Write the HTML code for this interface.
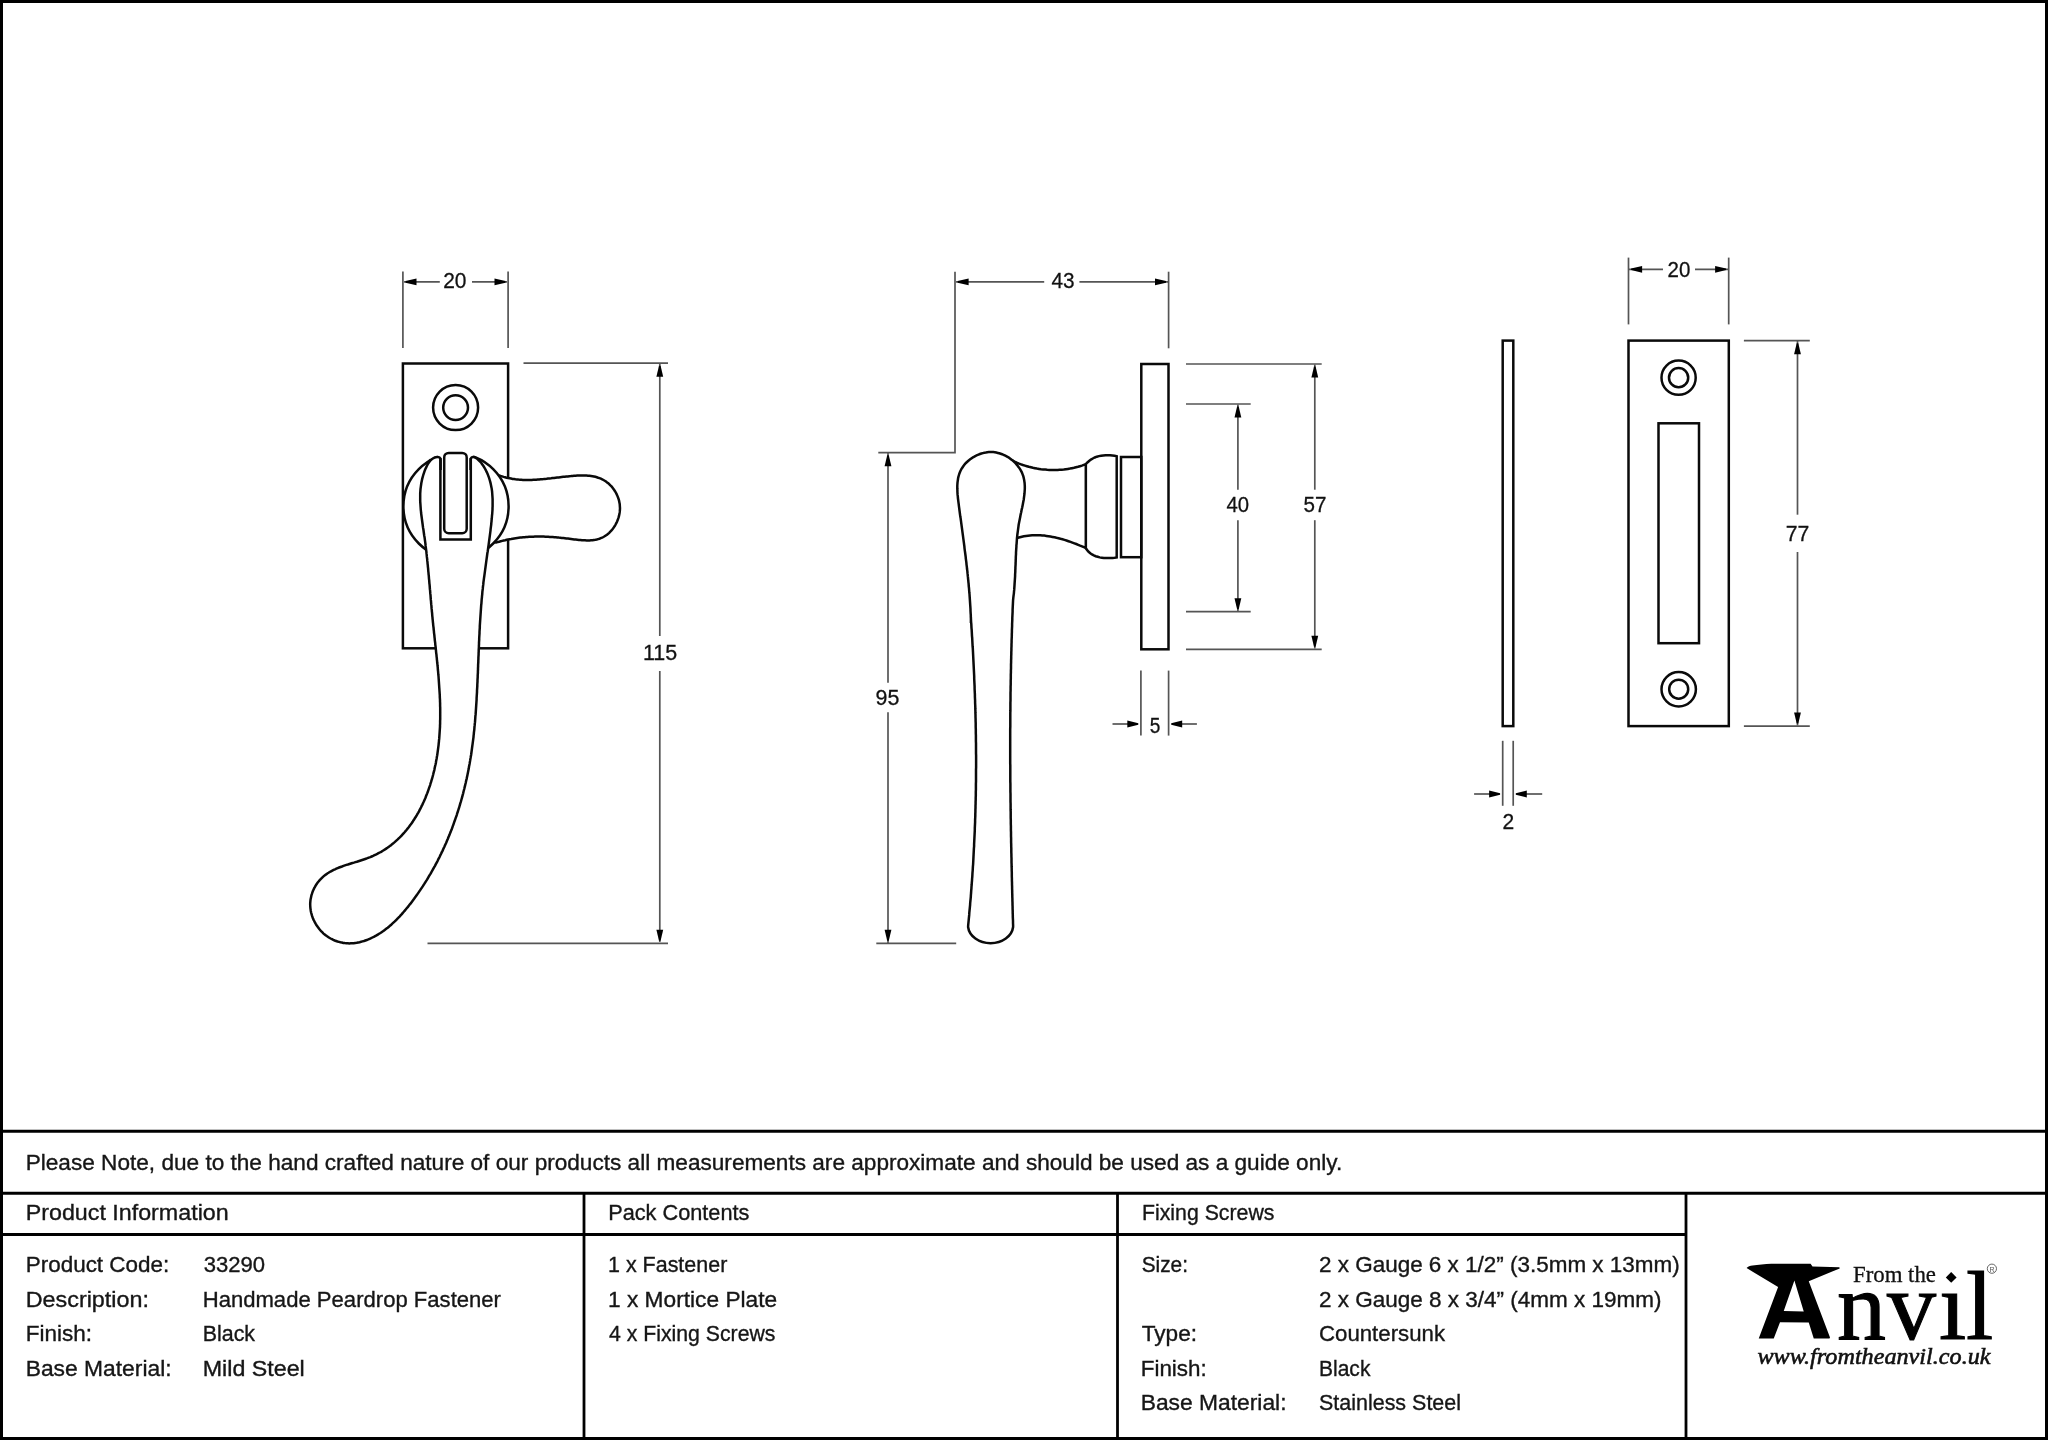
<!DOCTYPE html>
<html><head><meta charset="utf-8">
<style>
html,body{margin:0;padding:0;background:#fff;}
body{width:2048px;height:1440px;overflow:hidden;position:relative;}
svg{position:absolute;left:0;top:0;will-change:transform;}
.t{font-family:"Liberation Sans",sans-serif;font-size:21.8px;fill:#161616;stroke:#161616;stroke-width:0.35px;}
.d{font-family:"Liberation Sans",sans-serif;font-size:22.2px;fill:#111;stroke:#111;stroke-width:0.3px;}
.o{fill:none;stroke:#0a0a0a;stroke-width:2.5;}
.ow{fill:#fff;stroke:#0a0a0a;stroke-width:2.5;}
.dl{fill:none;stroke:#555;stroke-width:1.7;}
.ah{fill:#000;stroke:none;}
</style></head>
<body>
<svg width="2048" height="1440" viewBox="0 0 2048 1440">
<!-- frame -->
<rect x="1.5" y="1.5" width="2045" height="1437" fill="none" stroke="#000" stroke-width="3"/>
<line x1="0" y1="1131.2" x2="2048" y2="1131.2" stroke="#000" stroke-width="3"/>
<line x1="0" y1="1193.2" x2="2048" y2="1193.2" stroke="#000" stroke-width="3"/>
<line x1="0" y1="1234.5" x2="1686" y2="1234.5" stroke="#000" stroke-width="3"/>
<line x1="584" y1="1193" x2="584" y2="1440" stroke="#000" stroke-width="2.8"/>
<line x1="1117.5" y1="1193" x2="1117.5" y2="1440" stroke="#000" stroke-width="2.8"/>
<line x1="1686" y1="1193" x2="1686" y2="1440" stroke="#000" stroke-width="2.8"/>

<!-- table text -->
<g class="t">
<text x="25.7" y="1170" textLength="1316.5" lengthAdjust="spacingAndGlyphs">Please Note, due to the hand crafted nature of our products all measurements are approximate and should be used as a guide only.</text>
<text x="25.7" y="1219.5" textLength="203.0" lengthAdjust="spacingAndGlyphs">Product Information</text>
<text x="608.2" y="1219.5" textLength="141.2" lengthAdjust="spacingAndGlyphs">Pack Contents</text>
<text x="1142.0" y="1219.5" textLength="132.4" lengthAdjust="spacingAndGlyphs">Fixing Screws</text>

<text x="25.7" y="1272" textLength="143.6" lengthAdjust="spacingAndGlyphs">Product Code:</text>
<text x="203.7" y="1272" textLength="61.4" lengthAdjust="spacingAndGlyphs">33290</text>
<text x="25.7" y="1306.8" textLength="123.3" lengthAdjust="spacingAndGlyphs">Description:</text>
<text x="202.7" y="1306.8" textLength="298.3" lengthAdjust="spacingAndGlyphs">Handmade Peardrop Fastener</text>
<text x="25.7" y="1341.2" textLength="66.3" lengthAdjust="spacingAndGlyphs">Finish:</text>
<text x="202.7" y="1341.2" textLength="52.4" lengthAdjust="spacingAndGlyphs">Black</text>
<text x="25.7" y="1375.5" textLength="145.9" lengthAdjust="spacingAndGlyphs">Base Material:</text>
<text x="202.7" y="1375.5" textLength="102.1" lengthAdjust="spacingAndGlyphs">Mild Steel</text>

<text x="608.0" y="1272" textLength="119.3" lengthAdjust="spacingAndGlyphs">1 x Fastener</text>
<text x="608.0" y="1306.8" textLength="169.2" lengthAdjust="spacingAndGlyphs">1 x Mortice Plate</text>
<text x="609.0" y="1341.2" textLength="166.4" lengthAdjust="spacingAndGlyphs">4 x Fixing Screws</text>

<text x="1141.7" y="1272" textLength="46.3" lengthAdjust="spacingAndGlyphs">Size:</text>
<text x="1319.0" y="1272" textLength="360.7" lengthAdjust="spacingAndGlyphs">2 x Gauge 6 x 1/2” (3.5mm x 13mm)</text>
<text x="1319.0" y="1306.8" textLength="342.5" lengthAdjust="spacingAndGlyphs">2 x Gauge 8 x 3/4” (4mm x 19mm)</text>
<text x="1141.7" y="1341.2" textLength="55.3" lengthAdjust="spacingAndGlyphs">Type:</text>
<text x="1319.0" y="1341.2" textLength="126.0" lengthAdjust="spacingAndGlyphs">Countersunk</text>
<text x="1140.7" y="1375.5" textLength="66.1" lengthAdjust="spacingAndGlyphs">Finish:</text>
<text x="1319.0" y="1375.5" textLength="51.4" lengthAdjust="spacingAndGlyphs">Black</text>
<text x="1140.7" y="1409.5" textLength="145.8" lengthAdjust="spacingAndGlyphs">Base Material:</text>
<text x="1319.0" y="1409.5" textLength="142.0" lengthAdjust="spacingAndGlyphs">Stainless Steel</text>
</g>

<!-- DRAWINGS -->
<!-- drawing 1 front view -->
<g id="d1">
<rect class="o" x="402.9" y="363.5" width="105.2" height="284.8"/>
<circle class="o" cx="455.6" cy="407.6" r="22.5"/>
<circle class="o" cx="455.6" cy="407.6" r="12.4"/>
<!--LV-->
<path class="ow" d="M 470,480 L 496.1,474.3 L 497.6,474.9 L 499.1,475.5 L 500.6,476.0 L 502.1,476.4 L 503.6,476.9 L 505.1,477.3 L 506.6,477.7 L 508.1,478.0 L 509.6,478.3 L 511.1,478.6 L 512.6,478.9 L 514.0,479.1 L 515.5,479.3 L 517.0,479.4 L 518.5,479.6 L 520.0,479.7 L 521.4,479.8 L 522.9,479.9 L 524.4,479.9 L 525.9,480.0 L 527.4,480.0 L 528.8,480.0 L 530.3,479.9 L 531.8,479.9 L 533.3,479.8 L 534.7,479.8 L 536.2,479.7 L 537.7,479.6 L 539.2,479.5 L 540.7,479.3 L 542.2,479.2 L 543.6,479.1 L 545.1,478.9 L 546.6,478.8 L 548.1,478.6 L 549.6,478.4 L 551.1,478.3 L 552.6,478.1 L 554.1,477.9 L 555.6,477.7 L 557.1,477.5 L 558.7,477.4 L 560.2,477.2 L 561.7,477.0 L 563.2,476.8 L 564.7,476.7 L 566.3,476.5 L 567.8,476.4 L 569.4,476.2 L 570.9,476.1 L 572.5,475.9 L 574.0,475.8 L 575.6,475.7 L 577.2,475.6 L 578.7,475.6 L 580.3,475.5 L 581.8,475.5 L 583.4,475.5 L 584.9,475.5 L 586.5,475.6 L 588.0,475.7 L 589.5,475.8 L 591.0,476.0 L 592.5,476.2 L 593.9,476.5 L 595.4,476.8 L 596.8,477.2 L 598.2,477.7 L 599.5,478.1 L 600.9,478.7 L 602.2,479.3 L 603.5,480.0 L 604.7,480.7 L 606.0,481.5 L 607.1,482.4 L 608.3,483.3 L 609.4,484.3 L 610.4,485.4 L 611.5,486.4 L 612.4,487.6 L 613.3,488.8 L 614.2,490.0 L 615.0,491.2 L 615.8,492.5 L 616.5,493.9 L 617.1,495.2 L 617.7,496.6 L 618.2,498.0 L 618.7,499.4 L 619.1,500.9 L 619.4,502.4 L 619.7,503.9 L 619.8,505.4 L 619.9,506.9 L 620.0,508.4 L 619.9,509.9 L 619.8,511.4 L 619.6,512.9 L 619.3,514.4 L 619.0,515.9 L 618.6,517.4 L 618.1,518.9 L 617.6,520.3 L 617.0,521.7 L 616.3,523.1 L 615.6,524.5 L 614.9,525.8 L 614.0,527.1 L 613.2,528.3 L 612.3,529.5 L 611.3,530.6 L 610.3,531.7 L 609.2,532.8 L 608.1,533.8 L 607.0,534.7 L 605.8,535.5 L 604.6,536.3 L 603.4,537.0 L 602.1,537.7 L 600.8,538.2 L 599.5,538.7 L 598.1,539.1 L 596.8,539.5 L 595.4,539.8 L 593.9,540.0 L 592.5,540.2 L 591.0,540.3 L 589.6,540.4 L 588.1,540.4 L 586.6,540.4 L 585.0,540.3 L 583.5,540.3 L 582.0,540.2 L 580.4,540.0 L 578.9,539.9 L 577.3,539.7 L 575.8,539.5 L 574.2,539.4 L 572.7,539.2 L 571.1,539.0 L 569.5,538.8 L 568.0,538.6 L 566.4,538.4 L 564.9,538.2 L 563.4,538.0 L 561.8,537.9 L 560.3,537.7 L 558.8,537.6 L 557.3,537.4 L 555.8,537.3 L 554.3,537.2 L 552.8,537.1 L 551.3,537.0 L 549.8,536.9 L 548.3,536.8 L 546.8,536.7 L 545.3,536.7 L 543.8,536.6 L 542.3,536.6 L 540.9,536.6 L 539.4,536.6 L 537.9,536.6 L 536.4,536.6 L 534.9,536.6 L 533.5,536.7 L 532.0,536.7 L 530.5,536.8 L 529.0,536.8 L 527.6,536.9 L 526.1,537.0 L 524.6,537.2 L 523.1,537.3 L 521.6,537.5 L 520.2,537.6 L 518.7,537.8 L 517.2,538.0 L 515.7,538.2 L 514.2,538.4 L 512.7,538.7 L 511.2,539.0 L 509.7,539.2 L 508.2,539.5 L 506.7,539.8 L 505.2,540.2 L 503.7,540.5 L 502.2,540.9 L 500.7,541.3 L 499.2,541.7 L 497.6,542.1 L 496.1,542.5 L 470,540 Z"/>
<circle class="ow" cx="456" cy="506.3" r="52.6"/>
<!--/LV-->
<!--B1-->
<path fill="#fff" stroke="none" d="M 440.6,470 L 440.6,459.8 C 440.6,457.6 439,456.9 437,457 C 434,457.2 430.5,460 428.3,463.3 L 428.3,463.2 L 427.5,464.6 L 426.8,466.0 L 426.2,467.4 L 425.5,468.8 L 424.9,470.2 L 424.4,471.7 L 423.9,473.1 L 423.4,474.5 L 423.0,476.0 L 422.6,477.4 L 422.2,478.9 L 421.9,480.3 L 421.6,481.8 L 421.3,483.3 L 421.1,484.7 L 420.9,486.2 L 420.7,487.7 L 420.5,489.2 L 420.4,490.7 L 420.3,492.1 L 420.2,493.6 L 420.2,495.1 L 420.2,496.6 L 420.2,498.1 L 420.2,499.6 L 420.2,501.1 L 420.3,502.6 L 420.4,504.0 L 420.5,505.5 L 420.6,507.0 L 420.7,508.5 L 420.8,510.0 L 421.0,511.5 L 421.1,513.0 L 421.3,514.5 L 421.5,516.0 L 421.7,517.5 L 421.9,519.0 L 422.1,520.5 L 422.3,522.0 L 422.5,523.5 L 422.7,525.0 L 422.9,526.5 L 423.1,528.0 L 423.4,529.5 L 423.6,531.0 L 423.8,532.5 L 424.0,534.0 L 424.2,535.5 L 424.5,536.9 L 424.7,538.4 L 424.9,539.9 L 425.1,541.4 L 425.3,542.9 L 425.5,544.4 L 425.6,545.9 L 425.8,547.4 L 426.0,548.9 L 426.2,550.4 L 426.4,551.9 L 426.5,553.4 L 426.7,554.9 L 426.8,556.4 L 427.0,557.9 L 427.2,559.4 L 427.3,560.9 L 427.5,562.4 L 427.6,563.8 L 427.8,565.3 L 427.9,566.8 L 428.1,568.3 L 428.2,569.8 L 428.3,571.3 L 428.5,572.8 L 428.6,574.3 L 428.8,575.8 L 428.9,577.3 L 429.0,578.8 L 429.2,580.3 L 429.3,581.8 L 429.4,583.3 L 429.6,584.8 L 429.7,586.2 L 429.8,587.7 L 429.9,589.2 L 430.1,590.7 L 430.2,592.2 L 430.3,593.7 L 430.5,595.2 L 430.6,596.7 L 430.7,598.2 L 430.8,599.7 L 431.0,601.2 L 431.1,602.7 L 431.2,604.2 L 431.4,605.7 L 431.5,607.2 L 431.6,608.7 L 431.8,610.2 L 431.9,611.6 L 432.1,613.1 L 432.2,614.6 L 432.3,616.1 L 432.5,617.6 L 432.6,619.1 L 432.8,620.6 L 432.9,622.1 L 433.1,623.6 L 433.2,625.1 L 433.4,626.6 L 433.6,628.1 L 433.7,629.6 L 433.9,631.1 L 434.0,632.6 L 434.2,634.1 L 434.4,635.6 L 434.5,637.1 L 434.7,638.6 L 434.8,640.1 L 435.0,641.6 L 435.2,643.1 L 435.3,644.6 L 435.5,646.1 L 435.7,647.6 L 435.8,649.1 L 436.0,650.6 L 436.1,652.1 L 436.3,653.6 L 436.5,655.1 L 436.6,656.6 L 436.8,658.1 L 436.9,659.6 L 437.1,661.1 L 437.2,662.5 L 437.4,664.0 L 437.5,665.5 L 437.7,667.0 L 437.8,668.5 L 437.9,670.0 L 438.1,671.5 L 438.2,673.0 L 438.3,674.5 L 438.5,676.0 L 438.6,677.5 L 438.7,679.0 L 438.8,680.5 L 438.9,682.0 L 439.0,683.5 L 439.1,685.0 L 439.2,686.5 L 439.3,688.0 L 439.4,689.5 L 439.5,691.0 L 439.6,692.5 L 439.7,694.0 L 439.8,695.5 L 439.8,697.0 L 439.9,698.5 L 440.0,700.0 L 440.0,701.5 L 440.1,703.0 L 440.1,704.5 L 440.1,706.0 L 440.2,707.5 L 440.2,709.0 L 440.2,710.5 L 440.2,712.0 L 440.2,713.5 L 440.2,715.0 L 440.2,716.5 L 440.2,717.9 L 440.2,719.4 L 440.1,720.9 L 440.1,722.4 L 440.1,723.9 L 440.0,725.4 L 440.0,726.9 L 439.9,728.4 L 439.8,729.9 L 439.7,731.4 L 439.6,732.9 L 439.5,734.4 L 439.4,735.9 L 439.3,737.4 L 439.2,738.9 L 439.0,740.3 L 438.9,741.8 L 438.7,743.3 L 438.6,744.8 L 438.4,746.3 L 438.2,747.8 L 438.0,749.3 L 437.8,750.8 L 437.6,752.3 L 437.4,753.8 L 437.2,755.2 L 436.9,756.7 L 436.7,758.2 L 436.4,759.7 L 436.1,761.2 L 435.9,762.7 L 435.6,764.2 L 435.2,765.7 L 434.9,767.1 L 434.6,768.6 L 434.3,770.1 L 433.9,771.6 L 433.5,773.1 L 433.2,774.5 L 432.8,776.0 L 432.4,777.5 L 432.0,779.0 L 431.5,780.4 L 431.1,781.9 L 430.6,783.3 L 430.2,784.8 L 429.7,786.3 L 429.2,787.7 L 428.7,789.1 L 428.2,790.6 L 427.7,792.0 L 427.2,793.4 L 426.6,794.8 L 426.0,796.3 L 425.5,797.7 L 424.9,799.1 L 424.3,800.4 L 423.7,801.8 L 423.0,803.2 L 422.4,804.6 L 421.7,805.9 L 421.1,807.3 L 420.4,808.6 L 419.7,809.9 L 419.0,811.3 L 418.3,812.6 L 417.5,813.9 L 416.8,815.2 L 416.0,816.5 L 415.2,817.7 L 414.4,819.0 L 413.6,820.2 L 412.8,821.5 L 412.0,822.7 L 411.1,823.9 L 410.3,825.1 L 409.4,826.3 L 408.5,827.5 L 407.6,828.6 L 406.7,829.8 L 405.7,830.9 L 404.8,832.0 L 403.8,833.1 L 402.8,834.2 L 401.8,835.3 L 400.8,836.4 L 399.8,837.4 L 398.7,838.4 L 397.7,839.4 L 396.6,840.4 L 395.5,841.4 L 394.4,842.4 L 393.3,843.3 L 392.1,844.2 L 391.0,845.2 L 389.8,846.1 L 388.6,846.9 L 387.4,847.8 L 386.2,848.6 L 385.0,849.4 L 383.7,850.2 L 382.4,851.0 L 381.2,851.8 L 379.8,852.5 L 378.5,853.2 L 377.2,853.9 L 375.8,854.6 L 374.5,855.2 L 373.1,855.9 L 371.7,856.5 L 370.3,857.1 L 368.8,857.6 L 367.4,858.2 L 365.9,858.7 L 364.4,859.2 L 362.9,859.7 L 361.4,860.2 L 359.9,860.7 L 358.4,861.2 L 356.9,861.7 L 355.4,862.1 L 353.9,862.6 L 352.4,863.0 L 350.9,863.5 L 349.4,864.0 L 347.9,864.5 L 346.4,864.9 L 344.9,865.4 L 343.5,865.9 L 342.0,866.5 L 340.6,867.0 L 339.1,867.5 L 337.7,868.1 L 336.3,868.7 L 335.0,869.3 L 333.6,869.9 L 332.3,870.6 L 331.0,871.3 L 329.7,872.0 L 328.5,872.8 L 327.3,873.5 L 326.1,874.4 L 324.9,875.2 L 323.8,876.1 L 322.7,877.1 L 321.7,878.1 L 320.7,879.1 L 319.7,880.1 L 318.8,881.2 L 317.9,882.3 L 317.0,883.5 L 316.2,884.7 L 315.5,885.9 L 314.8,887.2 L 314.1,888.4 L 313.5,889.7 L 312.9,891.0 L 312.4,892.4 L 312.0,893.7 L 311.5,895.1 L 311.2,896.5 L 310.9,897.9 L 310.6,899.3 L 310.4,900.8 L 310.3,902.2 L 310.2,903.7 L 310.2,905.1 L 310.3,906.6 L 310.4,908.1 L 310.6,909.5 L 310.8,911.0 L 311.1,912.5 L 311.5,913.9 L 311.9,915.4 L 312.4,916.8 L 312.9,918.2 L 313.5,919.6 L 314.2,921.0 L 314.9,922.4 L 315.6,923.7 L 316.4,925.0 L 317.3,926.3 L 318.2,927.6 L 319.1,928.8 L 320.1,930.0 L 321.1,931.1 L 322.2,932.2 L 323.3,933.3 L 324.4,934.3 L 325.6,935.2 L 326.8,936.1 L 328.1,937.0 L 329.3,937.8 L 330.6,938.5 L 332.0,939.2 L 333.3,939.9 L 334.7,940.5 L 336.1,941.0 L 337.5,941.5 L 339.0,941.9 L 340.4,942.3 L 341.9,942.6 L 343.3,942.9 L 344.8,943.1 L 346.3,943.2 L 347.8,943.3 L 349.3,943.4 L 350.8,943.3 L 352.2,943.3 L 353.7,943.2 L 355.2,943.0 L 356.7,942.8 L 358.2,942.5 L 359.6,942.2 L 361.1,941.8 L 362.5,941.4 L 364.0,941.0 L 365.4,940.5 L 366.8,940.0 L 368.3,939.4 L 369.7,938.8 L 371.1,938.2 L 372.4,937.5 L 373.8,936.8 L 375.1,936.1 L 376.5,935.4 L 377.8,934.6 L 379.1,933.8 L 380.4,933.0 L 381.6,932.2 L 382.9,931.3 L 384.1,930.4 L 385.3,929.5 L 386.5,928.6 L 387.7,927.7 L 388.9,926.7 L 390.0,925.7 L 391.2,924.7 L 392.3,923.7 L 393.4,922.7 L 394.5,921.7 L 395.6,920.6 L 396.6,919.6 L 397.7,918.5 L 398.7,917.4 L 399.8,916.3 L 400.8,915.2 L 401.8,914.1 L 402.8,912.9 L 403.8,911.8 L 404.8,910.6 L 405.7,909.5 L 406.7,908.3 L 407.7,907.1 L 408.6,905.9 L 409.5,904.8 L 410.5,903.6 L 411.4,902.4 L 412.3,901.2 L 413.2,900.0 L 414.1,898.8 L 415.0,897.5 L 415.9,896.3 L 416.8,895.1 L 417.6,893.9 L 418.5,892.6 L 419.3,891.4 L 420.2,890.1 L 421.0,888.9 L 421.9,887.6 L 422.7,886.4 L 423.5,885.1 L 424.3,883.9 L 425.1,882.6 L 425.9,881.3 L 426.7,880.1 L 427.5,878.8 L 428.3,877.5 L 429.0,876.2 L 429.8,874.9 L 430.6,873.6 L 431.3,872.3 L 432.1,871.0 L 432.8,869.7 L 433.5,868.4 L 434.2,867.1 L 435.0,865.8 L 435.7,864.4 L 436.4,863.1 L 437.1,861.8 L 437.8,860.5 L 438.4,859.1 L 439.1,857.8 L 439.8,856.5 L 440.4,855.1 L 441.1,853.8 L 441.7,852.4 L 442.4,851.1 L 443.0,849.7 L 443.6,848.3 L 444.3,847.0 L 444.9,845.6 L 445.5,844.2 L 446.1,842.9 L 446.7,841.5 L 447.3,840.1 L 447.9,838.7 L 448.4,837.3 L 449.0,835.9 L 449.6,834.6 L 450.1,833.2 L 450.7,831.8 L 451.2,830.4 L 451.8,829.0 L 452.3,827.6 L 452.8,826.2 L 453.3,824.8 L 453.8,823.3 L 454.3,821.9 L 454.8,820.5 L 455.3,819.1 L 455.8,817.7 L 456.3,816.3 L 456.8,814.8 L 457.2,813.4 L 457.7,812.0 L 458.2,810.5 L 458.6,809.1 L 459.1,807.7 L 459.5,806.2 L 459.9,804.8 L 460.3,803.4 L 460.8,801.9 L 461.2,800.5 L 461.6,799.0 L 462.0,797.6 L 462.4,796.1 L 462.8,794.7 L 463.2,793.2 L 463.5,791.8 L 463.9,790.3 L 464.3,788.8 L 464.6,787.4 L 465.0,785.9 L 465.3,784.5 L 465.7,783.0 L 466.0,781.5 L 466.3,780.1 L 466.7,778.6 L 467.0,777.1 L 467.3,775.7 L 467.6,774.2 L 467.9,772.7 L 468.2,771.2 L 468.5,769.8 L 468.8,768.3 L 469.0,766.8 L 469.3,765.3 L 469.6,763.9 L 469.8,762.4 L 470.1,760.9 L 470.3,759.4 L 470.6,757.9 L 470.8,756.4 L 471.1,755.0 L 471.3,753.5 L 471.5,752.0 L 471.7,750.5 L 471.9,749.0 L 472.1,747.5 L 472.3,746.0 L 472.5,744.6 L 472.7,743.1 L 472.9,741.6 L 473.1,740.1 L 473.3,738.6 L 473.5,737.1 L 473.6,735.6 L 473.8,734.1 L 473.9,732.6 L 474.1,731.1 L 474.3,729.6 L 474.4,728.2 L 474.5,726.7 L 474.7,725.2 L 474.8,723.7 L 475.0,722.2 L 475.1,720.7 L 475.2,719.2 L 475.3,717.7 L 475.4,716.2 L 475.6,714.7 L 475.7,713.2 L 475.8,711.7 L 475.9,710.2 L 476.0,708.7 L 476.1,707.2 L 476.2,705.7 L 476.3,704.2 L 476.4,702.7 L 476.5,701.2 L 476.6,699.7 L 476.6,698.2 L 476.7,696.7 L 476.8,695.2 L 476.9,693.7 L 477.0,692.2 L 477.0,690.7 L 477.1,689.2 L 477.2,687.7 L 477.3,686.2 L 477.3,684.7 L 477.4,683.2 L 477.5,681.7 L 477.5,680.2 L 477.6,678.6 L 477.7,677.1 L 477.7,675.6 L 477.8,674.1 L 477.9,672.6 L 477.9,671.1 L 478.0,669.6 L 478.0,668.1 L 478.1,666.6 L 478.1,665.1 L 478.2,663.6 L 478.3,662.1 L 478.3,660.6 L 478.4,659.1 L 478.4,657.6 L 478.5,656.1 L 478.6,654.6 L 478.6,653.1 L 478.7,651.6 L 478.7,650.1 L 478.8,648.6 L 478.9,647.1 L 478.9,645.6 L 479.0,644.1 L 479.0,642.6 L 479.1,641.1 L 479.2,639.6 L 479.2,638.1 L 479.3,636.5 L 479.4,635.0 L 479.5,633.5 L 479.5,632.0 L 479.6,630.5 L 479.7,629.0 L 479.8,627.5 L 479.8,626.0 L 479.9,624.5 L 480.0,623.0 L 480.1,621.5 L 480.2,620.0 L 480.3,618.5 L 480.4,617.0 L 480.5,615.5 L 480.6,614.0 L 480.7,612.6 L 480.8,611.1 L 480.9,609.6 L 481.0,608.1 L 481.1,606.6 L 481.2,605.1 L 481.4,603.6 L 481.5,602.1 L 481.6,600.6 L 481.7,599.1 L 481.9,597.6 L 482.0,596.1 L 482.2,594.6 L 482.3,593.1 L 482.4,591.6 L 482.6,590.1 L 482.8,588.7 L 482.9,587.2 L 483.1,585.7 L 483.3,584.2 L 483.4,582.7 L 483.6,581.2 L 483.8,579.7 L 484.0,578.2 L 484.2,576.8 L 484.4,575.3 L 484.6,573.8 L 484.8,572.3 L 485.0,570.8 L 485.2,569.3 L 485.4,567.9 L 485.6,566.4 L 485.8,564.9 L 486.0,563.4 L 486.2,561.9 L 486.4,560.4 L 486.6,558.9 L 486.8,557.5 L 487.0,556.0 L 487.2,554.5 L 487.4,553.0 L 487.7,551.5 L 487.9,550.0 L 488.1,548.5 L 488.3,547.0 L 488.5,545.6 L 488.7,544.1 L 488.9,542.6 L 489.1,541.1 L 489.3,539.6 L 489.5,538.1 L 489.7,536.6 L 489.9,535.1 L 490.1,533.6 L 490.3,532.1 L 490.5,530.6 L 490.6,529.1 L 490.8,527.6 L 491.0,526.1 L 491.2,524.6 L 491.3,523.1 L 491.5,521.6 L 491.6,520.1 L 491.8,518.5 L 491.9,517.0 L 492.0,515.5 L 492.2,514.0 L 492.3,512.5 L 492.4,511.0 L 492.5,509.5 L 492.5,508.0 L 492.6,506.5 L 492.6,505.0 L 492.6,503.5 L 492.6,502.0 L 492.6,500.5 L 492.6,499.0 L 492.5,497.5 L 492.4,496.0 L 492.3,494.5 L 492.2,493.0 L 492.1,491.6 L 491.9,490.1 L 491.7,488.6 L 491.4,487.2 L 491.1,485.7 L 490.8,484.3 L 490.5,482.9 L 490.1,481.4 L 489.7,480.0 L 489.3,478.6 L 488.8,477.2 L 488.3,475.8 L 487.8,474.4 L 487.2,473.0 L 486.5,471.7 L 485.9,470.3 L 485.2,469.0 L 484.4,467.6 L 483.6,466.3 L 482.7,465.0 L 481.8,463.7 L 480.9,462.4 C 478.5,459.8 476,457.2 473.5,457 C 471.8,456.9 470.6,457.8 470.6,459.8 L 470.6,470 L 474.5,451 L 436.5,451 Z"/>
<path class="o" d="M 440.6,470 L 440.6,459.8 C 440.6,457.6 439,456.9 437,457 C 434,457.2 430.5,460 428.3,463.3 L 428.3,463.2 L 427.5,464.6 L 426.8,466.0 L 426.2,467.4 L 425.5,468.8 L 424.9,470.2 L 424.4,471.7 L 423.9,473.1 L 423.4,474.5 L 423.0,476.0 L 422.6,477.4 L 422.2,478.9 L 421.9,480.3 L 421.6,481.8 L 421.3,483.3 L 421.1,484.7 L 420.9,486.2 L 420.7,487.7 L 420.5,489.2 L 420.4,490.7 L 420.3,492.1 L 420.2,493.6 L 420.2,495.1 L 420.2,496.6 L 420.2,498.1 L 420.2,499.6 L 420.2,501.1 L 420.3,502.6 L 420.4,504.0 L 420.5,505.5 L 420.6,507.0 L 420.7,508.5 L 420.8,510.0 L 421.0,511.5 L 421.1,513.0 L 421.3,514.5 L 421.5,516.0 L 421.7,517.5 L 421.9,519.0 L 422.1,520.5 L 422.3,522.0 L 422.5,523.5 L 422.7,525.0 L 422.9,526.5 L 423.1,528.0 L 423.4,529.5 L 423.6,531.0 L 423.8,532.5 L 424.0,534.0 L 424.2,535.5 L 424.5,536.9 L 424.7,538.4 L 424.9,539.9 L 425.1,541.4 L 425.3,542.9 L 425.5,544.4 L 425.6,545.9 L 425.8,547.4 L 426.0,548.9 L 426.2,550.4 L 426.4,551.9 L 426.5,553.4 L 426.7,554.9 L 426.8,556.4 L 427.0,557.9 L 427.2,559.4 L 427.3,560.9 L 427.5,562.4 L 427.6,563.8 L 427.8,565.3 L 427.9,566.8 L 428.1,568.3 L 428.2,569.8 L 428.3,571.3 L 428.5,572.8 L 428.6,574.3 L 428.8,575.8 L 428.9,577.3 L 429.0,578.8 L 429.2,580.3 L 429.3,581.8 L 429.4,583.3 L 429.6,584.8 L 429.7,586.2 L 429.8,587.7 L 429.9,589.2 L 430.1,590.7 L 430.2,592.2 L 430.3,593.7 L 430.5,595.2 L 430.6,596.7 L 430.7,598.2 L 430.8,599.7 L 431.0,601.2 L 431.1,602.7 L 431.2,604.2 L 431.4,605.7 L 431.5,607.2 L 431.6,608.7 L 431.8,610.2 L 431.9,611.6 L 432.1,613.1 L 432.2,614.6 L 432.3,616.1 L 432.5,617.6 L 432.6,619.1 L 432.8,620.6 L 432.9,622.1 L 433.1,623.6 L 433.2,625.1 L 433.4,626.6 L 433.6,628.1 L 433.7,629.6 L 433.9,631.1 L 434.0,632.6 L 434.2,634.1 L 434.4,635.6 L 434.5,637.1 L 434.7,638.6 L 434.8,640.1 L 435.0,641.6 L 435.2,643.1 L 435.3,644.6 L 435.5,646.1 L 435.7,647.6 L 435.8,649.1 L 436.0,650.6 L 436.1,652.1 L 436.3,653.6 L 436.5,655.1 L 436.6,656.6 L 436.8,658.1 L 436.9,659.6 L 437.1,661.1 L 437.2,662.5 L 437.4,664.0 L 437.5,665.5 L 437.7,667.0 L 437.8,668.5 L 437.9,670.0 L 438.1,671.5 L 438.2,673.0 L 438.3,674.5 L 438.5,676.0 L 438.6,677.5 L 438.7,679.0 L 438.8,680.5 L 438.9,682.0 L 439.0,683.5 L 439.1,685.0 L 439.2,686.5 L 439.3,688.0 L 439.4,689.5 L 439.5,691.0 L 439.6,692.5 L 439.7,694.0 L 439.8,695.5 L 439.8,697.0 L 439.9,698.5 L 440.0,700.0 L 440.0,701.5 L 440.1,703.0 L 440.1,704.5 L 440.1,706.0 L 440.2,707.5 L 440.2,709.0 L 440.2,710.5 L 440.2,712.0 L 440.2,713.5 L 440.2,715.0 L 440.2,716.5 L 440.2,717.9 L 440.2,719.4 L 440.1,720.9 L 440.1,722.4 L 440.1,723.9 L 440.0,725.4 L 440.0,726.9 L 439.9,728.4 L 439.8,729.9 L 439.7,731.4 L 439.6,732.9 L 439.5,734.4 L 439.4,735.9 L 439.3,737.4 L 439.2,738.9 L 439.0,740.3 L 438.9,741.8 L 438.7,743.3 L 438.6,744.8 L 438.4,746.3 L 438.2,747.8 L 438.0,749.3 L 437.8,750.8 L 437.6,752.3 L 437.4,753.8 L 437.2,755.2 L 436.9,756.7 L 436.7,758.2 L 436.4,759.7 L 436.1,761.2 L 435.9,762.7 L 435.6,764.2 L 435.2,765.7 L 434.9,767.1 L 434.6,768.6 L 434.3,770.1 L 433.9,771.6 L 433.5,773.1 L 433.2,774.5 L 432.8,776.0 L 432.4,777.5 L 432.0,779.0 L 431.5,780.4 L 431.1,781.9 L 430.6,783.3 L 430.2,784.8 L 429.7,786.3 L 429.2,787.7 L 428.7,789.1 L 428.2,790.6 L 427.7,792.0 L 427.2,793.4 L 426.6,794.8 L 426.0,796.3 L 425.5,797.7 L 424.9,799.1 L 424.3,800.4 L 423.7,801.8 L 423.0,803.2 L 422.4,804.6 L 421.7,805.9 L 421.1,807.3 L 420.4,808.6 L 419.7,809.9 L 419.0,811.3 L 418.3,812.6 L 417.5,813.9 L 416.8,815.2 L 416.0,816.5 L 415.2,817.7 L 414.4,819.0 L 413.6,820.2 L 412.8,821.5 L 412.0,822.7 L 411.1,823.9 L 410.3,825.1 L 409.4,826.3 L 408.5,827.5 L 407.6,828.6 L 406.7,829.8 L 405.7,830.9 L 404.8,832.0 L 403.8,833.1 L 402.8,834.2 L 401.8,835.3 L 400.8,836.4 L 399.8,837.4 L 398.7,838.4 L 397.7,839.4 L 396.6,840.4 L 395.5,841.4 L 394.4,842.4 L 393.3,843.3 L 392.1,844.2 L 391.0,845.2 L 389.8,846.1 L 388.6,846.9 L 387.4,847.8 L 386.2,848.6 L 385.0,849.4 L 383.7,850.2 L 382.4,851.0 L 381.2,851.8 L 379.8,852.5 L 378.5,853.2 L 377.2,853.9 L 375.8,854.6 L 374.5,855.2 L 373.1,855.9 L 371.7,856.5 L 370.3,857.1 L 368.8,857.6 L 367.4,858.2 L 365.9,858.7 L 364.4,859.2 L 362.9,859.7 L 361.4,860.2 L 359.9,860.7 L 358.4,861.2 L 356.9,861.7 L 355.4,862.1 L 353.9,862.6 L 352.4,863.0 L 350.9,863.5 L 349.4,864.0 L 347.9,864.5 L 346.4,864.9 L 344.9,865.4 L 343.5,865.9 L 342.0,866.5 L 340.6,867.0 L 339.1,867.5 L 337.7,868.1 L 336.3,868.7 L 335.0,869.3 L 333.6,869.9 L 332.3,870.6 L 331.0,871.3 L 329.7,872.0 L 328.5,872.8 L 327.3,873.5 L 326.1,874.4 L 324.9,875.2 L 323.8,876.1 L 322.7,877.1 L 321.7,878.1 L 320.7,879.1 L 319.7,880.1 L 318.8,881.2 L 317.9,882.3 L 317.0,883.5 L 316.2,884.7 L 315.5,885.9 L 314.8,887.2 L 314.1,888.4 L 313.5,889.7 L 312.9,891.0 L 312.4,892.4 L 312.0,893.7 L 311.5,895.1 L 311.2,896.5 L 310.9,897.9 L 310.6,899.3 L 310.4,900.8 L 310.3,902.2 L 310.2,903.7 L 310.2,905.1 L 310.3,906.6 L 310.4,908.1 L 310.6,909.5 L 310.8,911.0 L 311.1,912.5 L 311.5,913.9 L 311.9,915.4 L 312.4,916.8 L 312.9,918.2 L 313.5,919.6 L 314.2,921.0 L 314.9,922.4 L 315.6,923.7 L 316.4,925.0 L 317.3,926.3 L 318.2,927.6 L 319.1,928.8 L 320.1,930.0 L 321.1,931.1 L 322.2,932.2 L 323.3,933.3 L 324.4,934.3 L 325.6,935.2 L 326.8,936.1 L 328.1,937.0 L 329.3,937.8 L 330.6,938.5 L 332.0,939.2 L 333.3,939.9 L 334.7,940.5 L 336.1,941.0 L 337.5,941.5 L 339.0,941.9 L 340.4,942.3 L 341.9,942.6 L 343.3,942.9 L 344.8,943.1 L 346.3,943.2 L 347.8,943.3 L 349.3,943.4 L 350.8,943.3 L 352.2,943.3 L 353.7,943.2 L 355.2,943.0 L 356.7,942.8 L 358.2,942.5 L 359.6,942.2 L 361.1,941.8 L 362.5,941.4 L 364.0,941.0 L 365.4,940.5 L 366.8,940.0 L 368.3,939.4 L 369.7,938.8 L 371.1,938.2 L 372.4,937.5 L 373.8,936.8 L 375.1,936.1 L 376.5,935.4 L 377.8,934.6 L 379.1,933.8 L 380.4,933.0 L 381.6,932.2 L 382.9,931.3 L 384.1,930.4 L 385.3,929.5 L 386.5,928.6 L 387.7,927.7 L 388.9,926.7 L 390.0,925.7 L 391.2,924.7 L 392.3,923.7 L 393.4,922.7 L 394.5,921.7 L 395.6,920.6 L 396.6,919.6 L 397.7,918.5 L 398.7,917.4 L 399.8,916.3 L 400.8,915.2 L 401.8,914.1 L 402.8,912.9 L 403.8,911.8 L 404.8,910.6 L 405.7,909.5 L 406.7,908.3 L 407.7,907.1 L 408.6,905.9 L 409.5,904.8 L 410.5,903.6 L 411.4,902.4 L 412.3,901.2 L 413.2,900.0 L 414.1,898.8 L 415.0,897.5 L 415.9,896.3 L 416.8,895.1 L 417.6,893.9 L 418.5,892.6 L 419.3,891.4 L 420.2,890.1 L 421.0,888.9 L 421.9,887.6 L 422.7,886.4 L 423.5,885.1 L 424.3,883.9 L 425.1,882.6 L 425.9,881.3 L 426.7,880.1 L 427.5,878.8 L 428.3,877.5 L 429.0,876.2 L 429.8,874.9 L 430.6,873.6 L 431.3,872.3 L 432.1,871.0 L 432.8,869.7 L 433.5,868.4 L 434.2,867.1 L 435.0,865.8 L 435.7,864.4 L 436.4,863.1 L 437.1,861.8 L 437.8,860.5 L 438.4,859.1 L 439.1,857.8 L 439.8,856.5 L 440.4,855.1 L 441.1,853.8 L 441.7,852.4 L 442.4,851.1 L 443.0,849.7 L 443.6,848.3 L 444.3,847.0 L 444.9,845.6 L 445.5,844.2 L 446.1,842.9 L 446.7,841.5 L 447.3,840.1 L 447.9,838.7 L 448.4,837.3 L 449.0,835.9 L 449.6,834.6 L 450.1,833.2 L 450.7,831.8 L 451.2,830.4 L 451.8,829.0 L 452.3,827.6 L 452.8,826.2 L 453.3,824.8 L 453.8,823.3 L 454.3,821.9 L 454.8,820.5 L 455.3,819.1 L 455.8,817.7 L 456.3,816.3 L 456.8,814.8 L 457.2,813.4 L 457.7,812.0 L 458.2,810.5 L 458.6,809.1 L 459.1,807.7 L 459.5,806.2 L 459.9,804.8 L 460.3,803.4 L 460.8,801.9 L 461.2,800.5 L 461.6,799.0 L 462.0,797.6 L 462.4,796.1 L 462.8,794.7 L 463.2,793.2 L 463.5,791.8 L 463.9,790.3 L 464.3,788.8 L 464.6,787.4 L 465.0,785.9 L 465.3,784.5 L 465.7,783.0 L 466.0,781.5 L 466.3,780.1 L 466.7,778.6 L 467.0,777.1 L 467.3,775.7 L 467.6,774.2 L 467.9,772.7 L 468.2,771.2 L 468.5,769.8 L 468.8,768.3 L 469.0,766.8 L 469.3,765.3 L 469.6,763.9 L 469.8,762.4 L 470.1,760.9 L 470.3,759.4 L 470.6,757.9 L 470.8,756.4 L 471.1,755.0 L 471.3,753.5 L 471.5,752.0 L 471.7,750.5 L 471.9,749.0 L 472.1,747.5 L 472.3,746.0 L 472.5,744.6 L 472.7,743.1 L 472.9,741.6 L 473.1,740.1 L 473.3,738.6 L 473.5,737.1 L 473.6,735.6 L 473.8,734.1 L 473.9,732.6 L 474.1,731.1 L 474.3,729.6 L 474.4,728.2 L 474.5,726.7 L 474.7,725.2 L 474.8,723.7 L 475.0,722.2 L 475.1,720.7 L 475.2,719.2 L 475.3,717.7 L 475.4,716.2 L 475.6,714.7 L 475.7,713.2 L 475.8,711.7 L 475.9,710.2 L 476.0,708.7 L 476.1,707.2 L 476.2,705.7 L 476.3,704.2 L 476.4,702.7 L 476.5,701.2 L 476.6,699.7 L 476.6,698.2 L 476.7,696.7 L 476.8,695.2 L 476.9,693.7 L 477.0,692.2 L 477.0,690.7 L 477.1,689.2 L 477.2,687.7 L 477.3,686.2 L 477.3,684.7 L 477.4,683.2 L 477.5,681.7 L 477.5,680.2 L 477.6,678.6 L 477.7,677.1 L 477.7,675.6 L 477.8,674.1 L 477.9,672.6 L 477.9,671.1 L 478.0,669.6 L 478.0,668.1 L 478.1,666.6 L 478.1,665.1 L 478.2,663.6 L 478.3,662.1 L 478.3,660.6 L 478.4,659.1 L 478.4,657.6 L 478.5,656.1 L 478.6,654.6 L 478.6,653.1 L 478.7,651.6 L 478.7,650.1 L 478.8,648.6 L 478.9,647.1 L 478.9,645.6 L 479.0,644.1 L 479.0,642.6 L 479.1,641.1 L 479.2,639.6 L 479.2,638.1 L 479.3,636.5 L 479.4,635.0 L 479.5,633.5 L 479.5,632.0 L 479.6,630.5 L 479.7,629.0 L 479.8,627.5 L 479.8,626.0 L 479.9,624.5 L 480.0,623.0 L 480.1,621.5 L 480.2,620.0 L 480.3,618.5 L 480.4,617.0 L 480.5,615.5 L 480.6,614.0 L 480.7,612.6 L 480.8,611.1 L 480.9,609.6 L 481.0,608.1 L 481.1,606.6 L 481.2,605.1 L 481.4,603.6 L 481.5,602.1 L 481.6,600.6 L 481.7,599.1 L 481.9,597.6 L 482.0,596.1 L 482.2,594.6 L 482.3,593.1 L 482.4,591.6 L 482.6,590.1 L 482.8,588.7 L 482.9,587.2 L 483.1,585.7 L 483.3,584.2 L 483.4,582.7 L 483.6,581.2 L 483.8,579.7 L 484.0,578.2 L 484.2,576.8 L 484.4,575.3 L 484.6,573.8 L 484.8,572.3 L 485.0,570.8 L 485.2,569.3 L 485.4,567.9 L 485.6,566.4 L 485.8,564.9 L 486.0,563.4 L 486.2,561.9 L 486.4,560.4 L 486.6,558.9 L 486.8,557.5 L 487.0,556.0 L 487.2,554.5 L 487.4,553.0 L 487.7,551.5 L 487.9,550.0 L 488.1,548.5 L 488.3,547.0 L 488.5,545.6 L 488.7,544.1 L 488.9,542.6 L 489.1,541.1 L 489.3,539.6 L 489.5,538.1 L 489.7,536.6 L 489.9,535.1 L 490.1,533.6 L 490.3,532.1 L 490.5,530.6 L 490.6,529.1 L 490.8,527.6 L 491.0,526.1 L 491.2,524.6 L 491.3,523.1 L 491.5,521.6 L 491.6,520.1 L 491.8,518.5 L 491.9,517.0 L 492.0,515.5 L 492.2,514.0 L 492.3,512.5 L 492.4,511.0 L 492.5,509.5 L 492.5,508.0 L 492.6,506.5 L 492.6,505.0 L 492.6,503.5 L 492.6,502.0 L 492.6,500.5 L 492.6,499.0 L 492.5,497.5 L 492.4,496.0 L 492.3,494.5 L 492.2,493.0 L 492.1,491.6 L 491.9,490.1 L 491.7,488.6 L 491.4,487.2 L 491.1,485.7 L 490.8,484.3 L 490.5,482.9 L 490.1,481.4 L 489.7,480.0 L 489.3,478.6 L 488.8,477.2 L 488.3,475.8 L 487.8,474.4 L 487.2,473.0 L 486.5,471.7 L 485.9,470.3 L 485.2,469.0 L 484.4,467.6 L 483.6,466.3 L 482.7,465.0 L 481.8,463.7 L 480.9,462.4 C 478.5,459.8 476,457.2 473.5,457 C 471.8,456.9 470.6,457.8 470.6,459.8 L 470.6,470"/>
<!--/B1-->
<path class="o" d="M 440.4,457.9 L 440.4,539.6 L 470.8,539.6 L 470.8,457.9"/>
<rect class="ow" x="444.2" y="452.9" width="22.5" height="80.4" rx="4.5"/>
</g>
<!-- d1 dims -->
<g>
<line class="dl" x1="402.9" y1="271.5" x2="402.9" y2="348"/>
<line class="dl" x1="508.1" y1="271.5" x2="508.1" y2="348"/>
<line class="dl" x1="404" y1="281.9" x2="439.8" y2="281.9"/>
<line class="dl" x1="472" y1="281.9" x2="507" y2="281.9"/>
<path class="ah" d="M 405.5,282.7 L 416.5,285.3 L 416.5,278.5 L 405.5,281.1 Z"/>
<path class="ah" d="M 505.5,281.1 L 494.5,278.5 L 494.5,285.3 L 505.5,282.7 Z"/>
<line class="dl" x1="523.5" y1="363.2" x2="668" y2="363.2"/>
<line class="dl" x1="427.5" y1="943.3" x2="668" y2="943.3"/>
<line class="dl" x1="659.8" y1="364" x2="659.8" y2="636"/>
<line class="dl" x1="659.8" y1="671" x2="659.8" y2="942"/>
<path class="ah" d="M 659.0,365.8 L 656.4,376.8 L 663.2,376.8 L 660.6,365.8 Z"/>
<path class="ah" d="M 660.6,940.8 L 663.2,929.8 L 656.4,929.8 L 659.0,940.8 Z"/>
</g>
<g class="d">
<text x="443.2" y="288.4" textLength="23.3" lengthAdjust="spacingAndGlyphs">20</text>
<text x="642.9" y="660" textLength="34.2" lengthAdjust="spacingAndGlyphs">115</text>
</g>

<!-- drawing 2 side view -->
<g id="d2">
<rect class="o" x="1141.3" y="364" width="27.2" height="285.3"/>
<rect class="o" x="1121" y="457" width="20.3" height="100.2"/>
<!--NK-->
<path class="ow" d="M 1085.8,464.2 L 1087.4,462.5 L 1089.1,461.0 L 1090.9,459.6 L 1092.8,458.5 L 1094.8,457.5 L 1096.8,456.7 L 1098.9,456.1 L 1101.1,455.7 L 1103.3,455.4 L 1105.6,455.2 L 1107.8,455.2 L 1110.1,455.3 L 1112.3,455.5 L 1114.5,455.8 L 1116.7,456.3 L 1116.7,557.4 L 1114.6,557.7 L 1112.5,557.9 L 1110.4,558.0 L 1108.2,558.1 L 1106.1,558.1 L 1103.9,558.0 L 1101.8,557.7 L 1099.7,557.4 L 1097.7,556.8 L 1095.7,556.2 L 1093.8,555.4 L 1092.0,554.4 L 1090.3,553.2 L 1088.6,551.8 L 1087.2,550.1 L 1085.8,548.3 Z"/>
<path class="ow" d="M 1009.9,459.3 L 1011.7,460.2 L 1013.5,461.1 L 1015.3,462.0 L 1017.2,462.8 L 1019.1,463.6 L 1021.0,464.3 L 1022.9,465.0 L 1024.9,465.6 L 1026.9,466.2 L 1028.9,466.8 L 1030.9,467.3 L 1032.9,467.8 L 1034.9,468.2 L 1036.9,468.6 L 1039.0,468.9 L 1041.0,469.2 L 1043.1,469.4 L 1045.2,469.6 L 1047.2,469.8 L 1049.3,469.9 L 1051.4,470.0 L 1053.5,470.0 L 1055.5,470.0 L 1057.6,469.9 L 1059.7,469.8 L 1061.7,469.7 L 1063.8,469.5 L 1065.9,469.2 L 1067.9,468.9 L 1069.9,468.6 L 1072.0,468.2 L 1074.0,467.8 L 1076.0,467.3 L 1078.0,466.8 L 1080.0,466.2 L 1081.9,465.6 L 1083.8,464.9 L 1085.8,464.2 L 1085.8,547.9 L 1083.9,547.1 L 1082.0,546.3 L 1080.1,545.6 L 1078.2,544.8 L 1076.3,544.0 L 1074.4,543.3 L 1072.4,542.6 L 1070.5,541.9 L 1068.5,541.2 L 1066.5,540.5 L 1064.5,539.9 L 1062.5,539.3 L 1060.5,538.8 L 1058.5,538.2 L 1056.5,537.8 L 1054.5,537.3 L 1052.5,536.9 L 1050.4,536.5 L 1048.4,536.2 L 1046.4,535.9 L 1044.3,535.6 L 1042.3,535.5 L 1040.2,535.3 L 1038.2,535.2 L 1036.1,535.2 L 1034.1,535.2 L 1032.1,535.3 L 1030.0,535.5 L 1028.0,535.7 L 1026.0,535.9 L 1023.9,536.3 L 1021.9,536.7 L 1019.9,537.2 L 1017.9,537.7 L 1015.9,538.4 L 1013.9,539.1 L 1011.9,539.9 L 1010.0,540.7 Z"/>
<!--/NK-->
<!--H2-->
<path class="ow" d="M 970.9,620.1 L 970.9,618.5 L 970.8,617.0 L 970.8,615.4 L 970.7,613.9 L 970.6,612.3 L 970.5,610.8 L 970.5,609.2 L 970.4,607.7 L 970.3,606.2 L 970.2,604.6 L 970.1,603.1 L 970.0,601.6 L 969.9,600.1 L 969.8,598.6 L 969.7,597.1 L 969.6,595.6 L 969.5,594.0 L 969.3,592.5 L 969.2,591.0 L 969.1,589.5 L 969.0,588.1 L 968.8,586.6 L 968.7,585.1 L 968.6,583.6 L 968.4,582.1 L 968.3,580.6 L 968.1,579.1 L 968.0,577.6 L 967.8,576.2 L 967.7,574.7 L 967.5,573.2 L 967.4,571.7 L 967.2,570.2 L 967.0,568.8 L 966.9,567.3 L 966.7,565.8 L 966.5,564.3 L 966.4,562.9 L 966.2,561.4 L 966.0,559.9 L 965.8,558.5 L 965.7,557.0 L 965.5,555.5 L 965.3,554.0 L 965.1,552.5 L 964.9,551.1 L 964.7,549.6 L 964.5,548.1 L 964.4,546.6 L 964.2,545.2 L 964.0,543.7 L 963.8,542.2 L 963.6,540.7 L 963.4,539.2 L 963.2,537.7 L 963.0,536.2 L 962.8,534.7 L 962.6,533.2 L 962.4,531.7 L 962.2,530.2 L 962.0,528.7 L 961.8,527.2 L 961.6,525.7 L 961.4,524.2 L 961.2,522.7 L 961.0,521.2 L 960.8,519.7 L 960.6,518.1 L 960.3,516.6 L 960.1,515.1 L 959.9,513.5 L 959.7,512.0 L 959.5,510.5 L 959.3,508.9 L 959.1,507.4 L 958.9,505.8 L 958.7,504.2 L 958.5,502.7 L 958.3,501.1 L 958.1,499.5 L 957.9,498.0 L 957.8,496.4 L 957.6,494.9 L 957.5,493.3 L 957.4,491.8 L 957.4,490.2 L 957.3,488.7 L 957.3,487.2 L 957.3,485.7 L 957.4,484.2 L 957.5,482.7 L 957.7,481.2 L 957.9,479.8 L 958.1,478.3 L 958.4,476.9 L 958.8,475.5 L 959.2,474.1 L 959.7,472.8 L 960.2,471.5 L 960.8,470.2 L 961.5,468.9 L 962.3,467.7 L 963.1,466.5 L 964.0,465.3 L 964.9,464.1 L 965.9,463.0 L 967.0,462.0 L 968.1,461.0 L 969.3,460.0 L 970.5,459.1 L 971.7,458.2 L 973.0,457.3 L 974.3,456.6 L 975.7,455.8 L 977.1,455.2 L 978.5,454.6 L 979.9,454.0 L 981.4,453.5 L 982.9,453.1 L 984.3,452.7 L 985.8,452.5 L 987.3,452.2 L 988.8,452.1 L 990.3,452.0 L 991.9,452.1 L 993.3,452.1 L 994.8,452.3 L 996.3,452.6 L 997.8,452.9 L 999.2,453.2 L 1000.7,453.7 L 1002.1,454.2 L 1003.5,454.8 L 1004.8,455.4 L 1006.2,456.1 L 1007.5,456.8 L 1008.8,457.6 L 1010.0,458.5 L 1011.2,459.4 L 1012.4,460.3 L 1013.6,461.3 L 1014.7,462.4 L 1015.7,463.4 L 1016.7,464.6 L 1017.6,465.7 L 1018.5,466.9 L 1019.4,468.1 L 1020.2,469.4 L 1020.9,470.6 L 1021.6,471.9 L 1022.2,473.3 L 1022.7,474.6 L 1023.2,476.0 L 1023.6,477.4 L 1023.9,478.8 L 1024.2,480.2 L 1024.4,481.6 L 1024.6,483.0 L 1024.7,484.5 L 1024.8,486.0 L 1024.8,487.5 L 1024.8,489.0 L 1024.7,490.5 L 1024.6,492.0 L 1024.5,493.5 L 1024.3,495.1 L 1024.1,496.6 L 1023.9,498.1 L 1023.7,499.7 L 1023.4,501.2 L 1023.1,502.8 L 1022.8,504.4 L 1022.5,505.9 L 1022.2,507.5 L 1021.8,509.1 L 1021.5,510.6 L 1021.2,512.2 L 1020.8,513.8 L 1020.5,515.3 L 1020.2,516.9 L 1019.9,518.4 L 1019.6,520.0 L 1019.3,521.5 L 1019.0,523.0 L 1018.7,524.5 L 1018.5,526.1 L 1018.3,527.6 L 1018.1,529.1 L 1017.9,530.6 L 1017.7,532.1 L 1017.5,533.5 L 1017.3,535.0 L 1017.2,536.5 L 1017.0,538.0 L 1016.9,539.4 L 1016.8,540.9 L 1016.7,542.4 L 1016.6,543.8 L 1016.4,545.3 L 1016.4,546.8 L 1016.3,548.2 L 1016.2,549.7 L 1016.1,551.1 L 1016.0,552.6 L 1016.0,554.1 L 1015.9,555.5 L 1015.8,557.0 L 1015.8,558.4 L 1015.7,559.9 L 1015.7,561.4 L 1015.6,562.8 L 1015.6,564.3 L 1015.5,565.8 L 1015.4,567.2 L 1015.4,568.7 L 1015.3,570.2 L 1015.3,571.7 L 1015.2,573.2 L 1015.1,574.7 L 1015.1,576.2 L 1015.0,577.7 L 1014.9,579.2 L 1014.8,580.7 L 1014.7,582.2 L 1014.6,583.7 L 1014.5,585.3 L 1014.4,586.8 L 1014.3,588.4 L 1014.2,589.9 L 1014.0,591.5 L 1013.9,593.1 L 1013.7,594.6 L 1013.5,596.2 L 1013.3,597.8 L 1013.1,599.8 L 1013.0,601.8 L 1012.9,603.9 L 1012.8,605.9 L 1012.7,607.9 L 1012.6,609.9 L 1012.6,611.9 L 1012.5,613.9 L 1012.4,616.0 L 1012.3,618.0 L 1012.3,620.0 L 1012.2,622.0 L 1012.1,624.0 L 1012.1,626.1 L 1012.0,628.1 L 1011.9,630.1 L 1011.9,632.1 L 1011.8,634.1 L 1011.8,636.1 L 1011.7,638.2 L 1011.6,640.2 L 1011.6,642.2 L 1011.5,644.2 L 1011.5,646.2 L 1011.4,648.3 L 1011.4,650.3 L 1011.3,652.3 L 1011.3,654.3 L 1011.2,656.3 L 1011.2,658.4 L 1011.1,660.4 L 1011.1,662.4 L 1011.0,664.4 L 1011.0,666.4 L 1011.0,668.5 L 1010.9,670.5 L 1010.9,672.5 L 1010.8,674.5 L 1010.8,676.5 L 1010.8,678.6 L 1010.7,680.6 L 1010.7,682.6 L 1010.7,684.6 L 1010.6,686.6 L 1010.6,688.7 L 1010.6,690.7 L 1010.5,692.7 L 1010.5,694.7 L 1010.5,696.7 L 1010.5,698.8 L 1010.5,700.8 L 1010.4,702.8 L 1010.4,704.8 L 1010.4,706.8 L 1010.4,708.9 L 1010.4,710.9 L 1010.3,712.9 L 1010.3,714.9 L 1010.3,716.9 L 1010.3,719.0 L 1010.3,721.0 L 1010.3,723.0 L 1010.3,725.0 L 1010.3,727.0 L 1010.2,729.1 L 1010.2,731.1 L 1010.2,733.1 L 1010.2,735.1 L 1010.2,737.1 L 1010.2,739.2 L 1010.2,741.2 L 1010.2,743.2 L 1010.2,745.2 L 1010.2,747.2 L 1010.2,749.3 L 1010.2,751.3 L 1010.2,753.3 L 1010.2,755.3 L 1010.2,757.3 L 1010.2,759.4 L 1010.2,761.4 L 1010.2,763.4 L 1010.3,765.4 L 1010.3,767.4 L 1010.3,769.5 L 1010.3,771.5 L 1010.3,773.5 L 1010.3,775.5 L 1010.3,777.5 L 1010.3,779.6 L 1010.3,781.6 L 1010.4,783.6 L 1010.4,785.6 L 1010.4,787.6 L 1010.4,789.7 L 1010.4,791.7 L 1010.5,793.7 L 1010.5,795.7 L 1010.5,797.7 L 1010.5,799.8 L 1010.5,801.8 L 1010.6,803.8 L 1010.6,805.8 L 1010.6,807.8 L 1010.6,809.9 L 1010.7,811.9 L 1010.7,813.9 L 1010.7,815.9 L 1010.7,817.9 L 1010.8,820.0 L 1010.8,822.0 L 1010.8,824.0 L 1010.9,826.0 L 1010.9,828.0 L 1010.9,830.1 L 1011.0,832.1 L 1011.0,834.1 L 1011.0,836.1 L 1011.1,838.1 L 1011.1,840.2 L 1011.1,842.2 L 1011.2,844.2 L 1011.2,846.2 L 1011.3,848.2 L 1011.3,850.3 L 1011.3,852.3 L 1011.4,854.3 L 1011.4,856.3 L 1011.5,858.3 L 1011.5,860.4 L 1011.5,862.4 L 1011.6,864.4 L 1011.6,866.4 L 1011.7,868.4 L 1011.7,870.5 L 1011.8,872.5 L 1011.8,874.5 L 1011.8,876.5 L 1011.9,878.5 L 1011.9,880.6 L 1012.0,882.6 L 1012.0,884.6 L 1012.1,886.6 L 1012.1,888.6 L 1012.2,890.7 L 1012.2,892.7 L 1012.3,894.7 L 1012.3,896.7 L 1012.4,898.7 L 1012.4,900.8 L 1012.5,902.8 L 1012.5,904.8 L 1012.6,906.8 L 1012.6,908.8 L 1012.7,910.9 L 1012.7,912.9 L 1012.8,914.9 L 1012.8,916.9 L 1012.9,918.9 L 1013.0,920.9 L 1013.0,923.0 L 1013.1,925.0 L 1013.1,927.0 A 22.6 17.8 0 0 1 968.1,927 L 968.2,925.0 L 968.4,923.0 L 968.6,921.0 L 968.8,918.9 L 969.0,916.9 L 969.2,914.9 L 969.3,912.9 L 969.5,910.9 L 969.7,908.9 L 969.9,906.9 L 970.1,904.8 L 970.2,902.8 L 970.4,900.8 L 970.6,898.8 L 970.8,896.8 L 970.9,894.8 L 971.1,892.7 L 971.2,890.7 L 971.4,888.7 L 971.5,886.7 L 971.7,884.7 L 971.8,882.7 L 972.0,880.6 L 972.1,878.6 L 972.3,876.6 L 972.4,874.6 L 972.5,872.6 L 972.7,870.5 L 972.8,868.5 L 972.9,866.5 L 973.1,864.5 L 973.2,862.5 L 973.3,860.5 L 973.4,858.4 L 973.5,856.4 L 973.6,854.4 L 973.7,852.4 L 973.8,850.4 L 973.9,848.3 L 974.1,846.3 L 974.1,844.3 L 974.2,842.3 L 974.3,840.3 L 974.4,838.2 L 974.5,836.2 L 974.6,834.2 L 974.7,832.2 L 974.8,830.2 L 974.8,828.1 L 974.9,826.1 L 975.0,824.1 L 975.1,822.1 L 975.1,820.1 L 975.2,818.0 L 975.3,816.0 L 975.3,814.0 L 975.4,812.0 L 975.4,810.0 L 975.5,807.9 L 975.5,805.9 L 975.6,803.9 L 975.6,801.9 L 975.7,799.9 L 975.7,797.8 L 975.8,795.8 L 975.8,793.8 L 975.8,791.8 L 975.9,789.7 L 975.9,787.7 L 975.9,785.7 L 975.9,783.7 L 976.0,781.7 L 976.0,779.6 L 976.0,777.6 L 976.0,775.6 L 976.0,773.6 L 976.0,771.6 L 976.0,769.5 L 976.1,767.5 L 976.1,765.5 L 976.1,763.5 L 976.1,761.4 L 976.1,759.4 L 976.1,757.4 L 976.1,755.4 L 976.0,753.4 L 976.0,751.3 L 976.0,749.3 L 976.0,747.3 L 976.0,745.3 L 976.0,743.2 L 975.9,741.2 L 975.9,739.2 L 975.9,737.2 L 975.9,735.2 L 975.8,733.1 L 975.8,731.1 L 975.8,729.1 L 975.7,727.1 L 975.7,725.1 L 975.7,723.0 L 975.6,721.0 L 975.6,719.0 L 975.5,717.0 L 975.5,714.9 L 975.4,712.9 L 975.4,710.9 L 975.3,708.9 L 975.3,706.9 L 975.2,704.8 L 975.1,702.8 L 975.1,700.8 L 975.0,698.8 L 974.9,696.8 L 974.9,694.7 L 974.8,692.7 L 974.7,690.7 L 974.6,688.7 L 974.6,686.6 L 974.5,684.6 L 974.4,682.6 L 974.3,680.6 L 974.2,678.6 L 974.2,676.5 L 974.1,674.5 L 974.0,672.5 L 973.9,670.5 L 973.8,668.5 L 973.7,666.4 L 973.6,664.4 L 973.5,662.4 L 973.4,660.4 L 973.3,658.4 L 973.2,656.3 L 973.1,654.3 L 973.0,652.3 L 972.9,650.3 L 972.8,648.3 L 972.6,646.2 L 972.5,644.2 L 972.4,642.2 L 972.3,640.2 L 972.2,638.2 L 972.0,636.1 L 971.9,634.1 L 971.8,632.1 L 971.7,630.1 L 971.5,628.1 L 971.4,626.1 L 971.3,624.0 L 971.1,622.0 L 971.0,620.0 Z"/>
<!--/H2-->
</g>
<g>
<path class="dl" d="M 955,271.7 L 955,452.6 L 878.3,452.6"/>
<line class="dl" x1="1168.6" y1="271.7" x2="1168.6" y2="348.3"/>
<line class="dl" x1="956" y1="281.9" x2="1044.2" y2="281.9"/>
<line class="dl" x1="1079.4" y1="281.9" x2="1168" y2="281.9"/>
<path class="ah" d="M 957.6,282.7 L 968.6,285.3 L 968.6,278.5 L 957.6,281.1 Z"/>
<path class="ah" d="M 1166.0,281.1 L 1155.0,278.5 L 1155.0,285.3 L 1166.0,282.7 Z"/>
<line class="dl" x1="888" y1="453" x2="888" y2="682.8"/>
<line class="dl" x1="888" y1="712.3" x2="888" y2="943"/>
<path class="ah" d="M 887.2,455.3 L 884.6,466.3 L 891.4,466.3 L 888.8,455.3 Z"/>
<path class="ah" d="M 888.8,940.8 L 891.4,929.8 L 884.6,929.8 L 887.2,940.8 Z"/>
<line class="dl" x1="876.3" y1="943.4" x2="956.2" y2="943.4"/>
<line class="dl" x1="1186" y1="404" x2="1250.7" y2="404"/>
<line class="dl" x1="1186" y1="611.7" x2="1250.7" y2="611.7"/>
<line class="dl" x1="1237.9" y1="404.5" x2="1237.9" y2="489.7"/>
<line class="dl" x1="1237.9" y1="520.2" x2="1237.9" y2="611"/>
<path class="ah" d="M 1237.1,406.6 L 1234.5,417.6 L 1241.3,417.6 L 1238.7,406.6 Z"/>
<path class="ah" d="M 1238.7,609.2 L 1241.3,598.2 L 1234.5,598.2 L 1237.1,609.2 Z"/>
<line class="dl" x1="1186" y1="364" x2="1321.7" y2="364"/>
<line class="dl" x1="1186" y1="649.3" x2="1321.7" y2="649.3"/>
<line class="dl" x1="1314.8" y1="364.5" x2="1314.8" y2="489.7"/>
<line class="dl" x1="1314.8" y1="520.2" x2="1314.8" y2="648.5"/>
<path class="ah" d="M 1314.0,366.6 L 1311.4,377.6 L 1318.2,377.6 L 1315.6,366.6 Z"/>
<path class="ah" d="M 1315.6,646.8 L 1318.2,635.8 L 1311.4,635.8 L 1314.0,646.8 Z"/>
<line class="dl" x1="1140.9" y1="670.6" x2="1140.9" y2="735.6"/>
<line class="dl" x1="1168.6" y1="670.6" x2="1168.6" y2="735.6"/>
<line class="dl" x1="1112.5" y1="724" x2="1130" y2="724"/>
<line class="dl" x1="1180" y1="724" x2="1196.9" y2="724"/>
<path class="ah" d="M 1138.3,723.2 L 1127.3,720.6 L 1127.3,727.4 L 1138.3,724.8 Z"/>
<path class="ah" d="M 1171.2,724.8 L 1182.2,727.4 L 1182.2,720.6 L 1171.2,723.2 Z"/>
</g>
<g class="d">
<text x="1051.5" y="288.1" textLength="23.1" lengthAdjust="spacingAndGlyphs">43</text>
<text x="875.5" y="704.5" textLength="23.8" lengthAdjust="spacingAndGlyphs">95</text>
<text x="1226.4" y="511.9" textLength="22.6" lengthAdjust="spacingAndGlyphs">40</text>
<text x="1303.5" y="511.9" textLength="22.9" lengthAdjust="spacingAndGlyphs">57</text>
<text x="1149.7" y="732.5" textLength="10.6" lengthAdjust="spacingAndGlyphs">5</text>
</g>

<!-- drawing 3 thin plate -->
<rect class="o" x="1502.7" y="340.6" width="10.6" height="385.5"/>
<g>
<line class="dl" x1="1502.7" y1="740.8" x2="1502.7" y2="805.8"/>
<line class="dl" x1="1513.2" y1="740.8" x2="1513.2" y2="805.8"/>
<line class="dl" x1="1474.1" y1="794" x2="1490" y2="794"/>
<line class="dl" x1="1525" y1="794" x2="1542.2" y2="794"/>
<path class="ah" d="M 1500.1,793.2 L 1489.1,790.6 L 1489.1,797.4 L 1500.1,794.8 Z"/>
<path class="ah" d="M 1515.8,794.8 L 1526.8,797.4 L 1526.8,790.6 L 1515.8,793.2 Z"/>
</g>
<g class="d"><text x="1502.6" y="829" textLength="11.7" lengthAdjust="spacingAndGlyphs">2</text></g>

<!-- drawing 4 mortice plate -->
<g>
<rect class="o" x="1628.5" y="340.6" width="100.3" height="385.5"/>
<circle class="o" cx="1678.6" cy="377.7" r="17.1"/>
<circle class="o" cx="1678.6" cy="377.7" r="9.6"/>
<circle class="o" cx="1678.7" cy="689.2" r="17.2"/>
<circle class="o" cx="1678.7" cy="689.2" r="9.5"/>
<rect class="o" x="1658.5" y="423.3" width="40.5" height="219.9"/>
</g>
<g>
<line class="dl" x1="1628.5" y1="257.6" x2="1628.5" y2="324.4"/>
<line class="dl" x1="1728.7" y1="257.6" x2="1728.7" y2="324.4"/>
<line class="dl" x1="1629" y1="269.3" x2="1663" y2="269.3"/>
<line class="dl" x1="1695" y1="269.3" x2="1728" y2="269.3"/>
<path class="ah" d="M 1631.1,270.1 L 1642.1,272.7 L 1642.1,265.9 L 1631.1,268.5 Z"/>
<path class="ah" d="M 1726.1,268.5 L 1715.1,265.9 L 1715.1,272.7 L 1726.1,270.1 Z"/>
<line class="dl" x1="1743.9" y1="340.6" x2="1809.8" y2="340.6"/>
<line class="dl" x1="1743.9" y1="726.1" x2="1809.8" y2="726.1"/>
<line class="dl" x1="1797.5" y1="341" x2="1797.5" y2="514.7"/>
<line class="dl" x1="1797.5" y1="552" x2="1797.5" y2="725.5"/>
<path class="ah" d="M 1796.7,343.2 L 1794.1,354.2 L 1800.9,354.2 L 1798.3,343.2 Z"/>
<path class="ah" d="M 1798.3,723.6 L 1800.9,712.6 L 1794.1,712.6 L 1796.7,723.6 Z"/>
</g>
<g class="d">
<text x="1667.5" y="277.1" textLength="22.8" lengthAdjust="spacingAndGlyphs">20</text>
<text x="1785.7" y="541.2" textLength="23.6" lengthAdjust="spacingAndGlyphs">77</text>
</g>

<!-- logo -->
<g id="logo">
<path fill="#000" fill-rule="evenodd" d="M 1746.6,1268.1 C 1748,1266.5 1750,1265.8 1752.5,1265.6 C 1758,1264.8 1765,1264 1771.25,1263.75 L 1810.6,1263.75 L 1812.5,1266.6 L 1839.4,1267.2 L 1839.7,1268.4 L 1808.75,1281.25 L 1830,1337.5 L 1829.5,1338.4 L 1813.75,1338.4 L 1808.75,1322.5 L 1780,1322.2 L 1773.75,1338.4 L 1758.75,1338.4 L 1778.1,1286.9 Z M 1794.4,1280.6 L 1783.75,1310.9 L 1803.75,1311.6 Z"/>
<text x="1853" y="1282" font-family="Liberation Serif" font-size="23" textLength="83" lengthAdjust="spacingAndGlyphs" fill="#111" stroke="#111" stroke-width="0.3">From the</text>
<path fill="#000" d="M 1951.2,1272 L 1956.6,1277.4 L 1951.2,1282.8 L 1945.8,1277.4 Z"/>
<g font-family="Liberation Serif" font-size="98" fill="#000" stroke="#000" stroke-width="1.1">
<text id="gn" x="1837" y="1339">n</text>
<text id="gv" x="1887" y="1339">v</text>
<text id="gi" x="1939" y="1339">ı</text>
<text id="gl" x="1966" y="1339">l</text>
</g>
<circle cx="1991.9" cy="1268.7" r="4.6" fill="none" stroke="#555" stroke-width="0.9"/>
<text x="1989.6" y="1271.6" font-family="Liberation Sans" font-size="7" fill="#555">R</text>
<text x="1757.5" y="1363.5" font-family="Liberation Serif" font-style="italic" font-size="24" textLength="233" lengthAdjust="spacingAndGlyphs" fill="#111" stroke="#111" stroke-width="0.6">www.fromtheanvil.co.uk</text>
</g>

</svg>
</body></html>
